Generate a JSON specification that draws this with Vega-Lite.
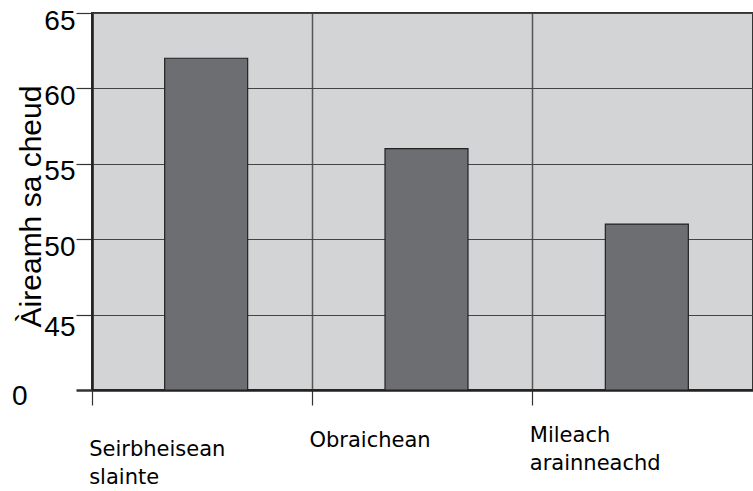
{
  "$schema": "https://vega.github.io/schema/vega-lite/v6.json",
  "width": 661,
  "height": 377,
  "autosize": {"type": "none"},
  "padding": {"left": 92, "top": 13, "right": 0, "bottom": 101},
  "background": "white",
  "config": {
    "view": {"fill": "#d3d4d6", "stroke": "#333333", "strokeWidth": 2}
  },
  "data": {
    "values": [
      {"category": "Seirbheisean slainte", "value": 62},
      {"category": "Obraichean", "value": 56},
      {"category": "Mileach arainneachd", "value": 51}
    ]
  },
  "mark": {"type": "bar", "color": "#6d6e71", "stroke": "#222222", "strokeWidth": 1.2, "width": 83, "xOffset": 4},
  "encoding": {
    "x": {
      "field": "category",
      "type": "nominal",
      "sort": null,
      "scale": {"paddingInner": 0, "paddingOuter": 0},
      "axis": {
        "title": null,
        "bandPosition": 0,
        "grid": true,
        "gridColor": "#555555",
        "gridWidth": 1.5,
        "domain": true,
        "domainColor": "#222222",
        "domainWidth": 2.5,
        "ticks": true,
        "tickSize": 15,
        "tickColor": "#333333",
        "tickWidth": 1.2,
        "labelAngle": 0,
        "labelAlign": "left",
        "labelBaseline": "top",
        "labelOffset": -113,
        "labelPadding": {
          "condition": [
            {"test": "datum.value === 'Obraichean'", "value": 24},
            {"test": "datum.value === 'Mileach arainneachd'", "value": 19}
          ],
          "value": 33
        },
        "labelExpr": "split(datum.label, ' ')",
        "labelLineHeight": 28,
        "labelFont": "DejaVu Sans",
        "labelFontSize": 21,
        "labelColor": "#000000",
        "labelFlush": false,
        "labelOverlap": false,
        "labelLimit": 300
      }
    },
    "y": {
      "field": "value",
      "type": "quantitative",
      "scale": {"domain": [40, 65], "zero": false, "nice": false},
      "axis": {
        "title": "Àireamh sa cheud",
        "titleFont": "Liberation Sans",
        "titleFontSize": 30,
        "titleFontWeight": "normal",
        "titleColor": "#000000",
        "titleX": -46,
        "titleY": 193,
        "values": [40, 45, 50, 55, 60, 65],
        "labelExpr": "datum.value == 40 ? '0' : datum.label",
        "labelFont": "Liberation Sans",
        "labelFontSize": 28,
        "labelColor": "#000000",
        "labelPadding": {
          "condition": {"test": "datum.value == 40", "value": 49},
          "value": 1
        },
        "labelOffset": {
          "condition": [
            {"test": "datum.value == 45", "value": 13},
            {"test": "datum.value == 40", "value": 6}
          ],
          "value": 8
        },
        "labelFlush": false,
        "labelOverlap": false,
        "grid": true,
        "gridColor": "#444444",
        "gridWidth": 1.2,
        "domain": true,
        "domainColor": "#222222",
        "domainWidth": 2.5,
        "tickSize": 16,
        "tickColor": "#333333",
        "tickWidth": {
          "condition": {"test": "datum.value == 40", "value": 2.5},
          "value": 1.2
        }
      }
    },
    "y2": {"datum": 40}
  }
}
